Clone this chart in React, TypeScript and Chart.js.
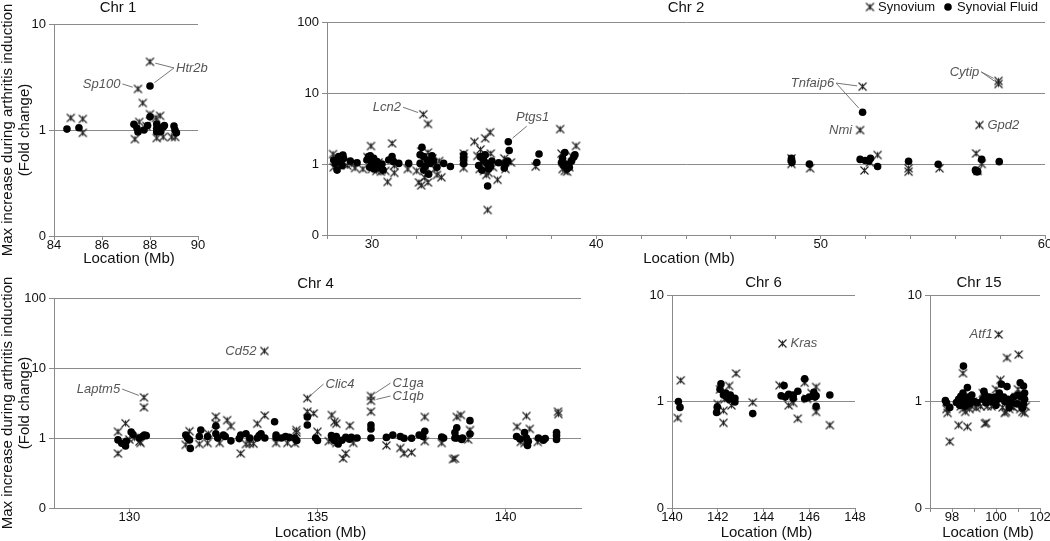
import React, { useEffect, useRef } from 'react';
import { Chart, registerables } from 'chart.js';
Chart.register(...registerables);

type P = [number, number];
type Note = { text: string; at: P; side: 'left' | 'right' | 'above'; gap?: number; targets?: P[] };

const FONT = "'Liberation Sans', Arial, Helvetica, sans-serif";
const Y_TITLE_1 = 'Max increase during arthritis induction';
const Y_TITLE_2 = '(Fold change)';
const X_TITLE = 'Location (Mb)';

// ---------- y ticks (log scale; bottom 0.1 shown as "0") ----------
const yTicksTen = [0.1, 1, 10];
const yTicksHundred = [0.1, 1, 10, 100];

// ---------- Chr 1 ----------
const chr1XTicks = [84, 86, 88, 90];
const chr1XLabels = [84, 86, 88, 90];
const chr1Synovium: P[] = [
  [84.7, 1.3], [85.2, 1.27], [85.2, 0.94], [87.37, 0.82], [87.5, 2.44], [87.7, 1.8], [88.0, 4.4],
  [88.0, 1.41], [87.55, 1.19], [88.25, 1.3], [88.42, 1.36], [88.28, 0.84], [88.55, 0.86], [88.9, 0.86],
  [89.05, 0.86], [87.85, 1.09],
];
const chr1Fluid: P[] = [
  [84.54, 1.02], [85.04, 1.05], [87.33, 1.13], [87.46, 1.04], [87.5, 0.96], [87.75, 1.0], [88.0, 1.33],
  [88.0, 2.6], [87.9, 1.1], [88.28, 1.14], [88.28, 1.04], [88.55, 1.07], [88.45, 0.97], [88.6, 1.1],
  [89.0, 1.09], [89.04, 1.0], [89.1, 0.94], [88.28, 0.96],
];
const chr1Notes: Note[] = [
  { text: 'Sp100', at: [86.85, 2.72], side: 'left', targets: [[87.5, 2.44]] },
  { text: 'Htr2b', at: [89.0, 3.85], side: 'right', targets: [[88.0, 4.4], [88.0, 2.6]] },
];

// ---------- Chr 2 ----------
const chr2XTicks = [28, 30, 32, 34, 36, 38, 40, 42, 44, 46, 48, 50, 52, 54, 56, 58, 60];
const chr2XLabels = [30, 40, 50, 60];
const chr2Synovium: P[] = [
  [28.27, 1.38], [28.3, 0.9], [28.5, 1.2], [28.7, 1.05], [28.9, 0.95], [29.1, 1.0], [29.25, 0.88],
  [29.96, 1.79], [29.8, 1.25], [30.0, 0.85], [30.2, 0.8], [30.4, 0.78], [30.3, 1.05], [29.6, 0.85],
  [30.6, 0.8], [30.9, 1.95], [30.7, 0.56], [31.0, 0.75], [31.0, 0.95], [31.6, 0.85],
  [32.29, 5.0], [32.5, 3.66], [32.1, 0.55], [32.2, 0.5], [32.5, 0.55], [32.35, 0.65], [33.1, 0.65],
  [32.9, 0.7], [32.2, 1.5], [32.5, 1.45], [32.7, 1.2], [32.4, 0.9], [32.8, 0.85], [32.0, 0.8], [33.0, 1.1],
  [34.09, 0.88], [34.1, 1.4], [34.09, 1.25],
  [34.57, 2.06], [35.27, 2.8], [35.05, 2.3], [34.84, 1.6], [34.7, 1.3], [34.8, 0.85], [35.0, 0.8],
  [35.2, 0.75], [35.4, 0.9], [35.16, 0.225], [35.6, 0.6], [35.3, 1.4], [34.9, 1.05], [35.1, 0.7],
  [35.9, 1.2], [35.95, 0.85], [36.2, 1.05], [37.3, 0.92], [38.39, 3.1], [39.1, 1.8], [38.5, 0.85],
  [38.6, 0.8], [38.7, 0.78], [38.8, 0.9], [38.45, 1.4], [38.9, 1.3],
  [48.7, 1.2], [48.7, 1.0], [49.53, 0.87], [51.95, 0.81], [51.76, 3.0], [51.87, 12.3], [52.54, 1.34],
  [52.2, 1.05], [53.92, 0.78], [53.92, 0.87], [55.3, 0.87], [56.93, 1.41], [57.18, 1.0], [57.08, 3.54],
  [57.93, 14.8], [57.93, 13.4], [57.0, 0.8],
];
const chr2Fluid: P[] = [
  [28.3, 1.14], [28.37, 1.02], [28.45, 0.82], [28.52, 1.27], [28.6, 1.08], [28.67, 0.95], [28.74, 1.2],
  [28.71, 1.34], [29.04, 1.1], [29.34, 1.04],
  [29.78, 1.14], [29.85, 1.27], [29.93, 1.3], [30.0, 1.02], [30.08, 1.2], [30.15, 0.95], [30.23, 1.08],
  [30.3, 0.88], [30.38, 0.92], [30.45, 1.0], [29.9, 0.9], [30.1, 0.85], [30.5, 0.82],
  [30.75, 1.14], [30.9, 1.27], [30.97, 1.08], [31.2, 1.02], [31.64, 1.02],
  [32.23, 1.72], [32.15, 1.35], [32.31, 1.27], [32.46, 1.14], [32.6, 1.02], [32.38, 0.92], [32.75, 1.1],
  [32.9, 0.9], [32.53, 0.72], [32.15, 1.02], [32.68, 1.3], [32.31, 0.82], [33.2, 1.02], [33.5, 0.92],
  [34.09, 1.35], [34.09, 1.2], [34.09, 1.02],
  [34.84, 1.27], [34.98, 1.14], [35.13, 1.02], [35.28, 0.92], [34.76, 0.95], [35.05, 1.35], [35.2, 0.85],
  [34.9, 0.82], [35.35, 1.1], [35.16, 0.49],
  [35.65, 1.04], [35.95, 1.02], [36.05, 1.1], [36.08, 2.06], [36.12, 1.55], [35.9, 0.88],
  [37.35, 1.05], [37.45, 1.38],
  [38.5, 1.2], [38.45, 1.05], [38.55, 0.95], [38.6, 1.45], [38.7, 0.85], [38.8, 0.9], [38.9, 1.1],
  [39.0, 1.25], [39.05, 1.35], [38.65, 1.0],
  [48.7, 1.12], [48.7, 1.2], [48.72, 1.05], [49.5, 1.0], [51.76, 1.16], [51.99, 1.12], [52.22, 1.2],
  [52.15, 1.1], [52.54, 0.92], [53.92, 1.09], [55.24, 0.99], [56.9, 0.82], [56.95, 0.78], [57.0, 0.78],
  [56.92, 0.8], [57.18, 1.16], [57.96, 1.08], [51.87, 5.35],
];
const chr2Notes: Note[] = [
  { text: 'Lcn2', at: [31.39, 6.3], side: 'left', targets: [[32.29, 5.0]] },
  { text: 'Ptgs1', at: [36.9, 3.4], side: 'above', targets: [[36.08, 2.06]] },
  { text: 'Tnfaip6', at: [50.69, 13.8], side: 'left', targets: [[51.87, 12.3], [51.87, 5.35]] },
  { text: 'Nmi', at: [51.76, 3.0], side: 'left', gap: 8 },
  { text: 'Cytip', at: [57.16, 19.8], side: 'left', targets: [[57.93, 14.8], [57.93, 13.4]] },
  { text: 'Gpd2', at: [57.08, 3.54], side: 'right', gap: 8 },
];

// ---------- Chr 4 ----------
const chr4XTicks = [130, 135, 140];
const chr4XLabels = [130, 135, 140];
const chr4Synovium: P[] = [
  [129.7, 1.23], [129.7, 0.6], [129.9, 1.62], [130.27, 0.89], [130.14, 1.0], [130.0, 0.95], [130.39, 3.8],
  [130.39, 2.74], [130.3, 0.85],
  [131.5, 0.8], [131.6, 1.25], [131.86, 0.82], [132.08, 0.85], [132.3, 2.02], [132.3, 1.6], [132.6, 1.8],
  [132.7, 1.48], [132.96, 0.6], [133.4, 1.6], [133.6, 2.1], [133.3, 0.83], [133.2, 0.83], [133.9, 0.85],
  [134.2, 0.85], [132.4, 0.85], [133.1, 0.82], [132.1, 1.15],
  [133.59, 17.5],
  [134.44, 1.3], [134.44, 1.2], [134.4, 0.84], [134.73, 3.69], [134.73, 2.38], [134.9, 2.24], [135.0, 1.23],
  [135.38, 2.13], [135.45, 1.7], [135.5, 1.6], [135.86, 1.5], [135.68, 0.51], [135.75, 0.6], [135.95, 0.85],
  [135.5, 0.85], [135.3, 0.9],
  [136.42, 3.98], [136.42, 3.41], [136.42, 2.38], [136.83, 0.78], [137.2, 0.72], [137.3, 0.6], [137.5, 0.62],
  [137.85, 2.0], [137.85, 0.9], [138.3, 0.85], [138.6, 0.5], [138.7, 2.0],
  [138.81, 2.13], [139.05, 1.3], [138.65, 0.51], [139.0, 0.95],
  [140.55, 2.06], [140.3, 1.45], [140.64, 1.35], [140.4, 0.88], [140.85, 0.88], [141.39, 2.38], [141.4, 2.2],
  [140.5, 0.85],
];
const chr4Fluid: P[] = [
  [129.7, 0.94], [129.8, 0.84], [129.9, 0.77], [129.92, 0.9], [130.05, 1.22], [130.1, 1.12], [130.27, 1.0],
  [130.35, 1.05], [130.4, 1.1], [130.45, 1.08],
  [131.5, 1.1], [131.55, 1.0], [131.6, 0.94], [131.62, 0.71], [131.9, 1.3], [131.86, 1.05], [132.08, 1.05],
  [132.3, 1.48], [132.3, 1.15], [132.35, 1.0], [132.5, 1.1], [132.55, 1.05], [132.7, 0.91], [132.96, 1.1],
  [132.92, 0.98], [133.1, 1.15], [133.2, 1.0], [133.4, 1.0], [133.45, 1.08], [133.5, 1.15], [133.6, 1.0],
  [133.86, 1.71], [133.9, 1.1], [133.9, 1.02], [134.15, 1.05], [134.25, 1.02],
  [134.04, 1.0], [134.4, 1.0], [134.45, 0.92], [134.73, 2.0], [134.73, 1.53], [134.95, 1.0], [135.0, 0.92],
  [135.37, 1.08], [135.4, 0.98], [135.45, 0.92], [135.5, 1.05], [135.55, 0.82], [135.65, 0.93],
  [135.75, 1.02], [135.9, 1.02], [136.05, 1.0], [135.85, 0.96],
  [136.42, 1.53], [136.42, 1.35], [136.42, 1.0], [136.83, 1.02], [137.0, 1.1], [137.2, 1.05], [137.3, 0.99],
  [137.5, 0.99], [137.7, 1.1], [137.85, 1.25], [137.8, 1.05], [138.3, 1.03], [138.35, 1.0], [138.65, 1.0],
  [138.7, 1.4],
  [138.65, 1.2], [138.7, 1.0], [138.83, 0.95], [138.85, 1.0], [139.05, 1.77], [139.05, 1.14],
  [140.29, 1.05], [140.38, 0.97], [140.5, 1.2], [140.55, 1.0], [140.6, 0.9], [140.58, 0.78], [140.87, 1.0],
  [141.0, 0.93], [141.05, 0.98], [141.35, 1.2], [141.35, 1.08], [141.35, 0.95],
];
const chr4Notes: Note[] = [
  { text: 'Laptm5', at: [129.81, 5.0], side: 'left', targets: [[130.39, 3.8]] },
  { text: 'Cd52', at: [133.59, 17.5], side: 'left', gap: 8 },
  { text: 'Clic4', at: [135.16, 5.9], side: 'right', targets: [[134.73, 3.69]] },
  { text: 'C1ga', at: [136.94, 6.1], side: 'right', targets: [[136.42, 3.98]] },
  { text: 'C1qb', at: [136.94, 3.98], side: 'right', targets: [[136.42, 3.41]] },
];

// ---------- Chr 6 ----------
const chr6XTicks = [140, 142, 144, 146, 148];
const chr6XLabels = [140, 142, 144, 146, 148];
const chr6Synovium: P[] = [
  [140.38, 1.58], [140.25, 0.7], [142.0, 0.95], [142.25, 0.63], [142.25, 0.82], [142.1, 1.3], [142.5, 1.4],
  [142.6, 0.92], [142.8, 1.83], [142.3, 1.05], [143.53, 0.98], [144.83, 3.5], [144.7, 1.42], [145.1, 0.92],
  [145.3, 0.97], [145.5, 0.69], [145.8, 1.5], [145.9, 1.06], [146.3, 1.37], [146.3, 0.8], [146.9, 0.6],
  [146.1, 1.2],
];
const chr6Fluid: P[] = [
  [140.28, 1.0], [140.35, 0.88], [141.98, 0.89], [141.95, 0.79], [142.14, 1.47], [142.1, 1.3], [142.25, 1.15],
  [142.35, 1.2], [142.4, 1.1], [142.5, 1.05], [142.55, 1.15], [142.75, 1.07], [142.75, 0.99], [143.53, 0.77],
  [144.77, 1.13], [144.9, 1.41], [144.95, 1.1], [145.1, 1.17], [145.3, 1.07], [145.3, 1.15], [145.5, 1.25],
  [145.8, 1.63], [145.8, 1.06], [146.0, 1.1], [146.2, 1.22], [146.25, 1.1], [146.3, 1.13], [146.3, 0.9],
  [146.9, 1.15],
];
const chr6Notes: Note[] = [{ text: 'Kras', at: [144.83, 3.5], side: 'right', gap: 8 }];

// ---------- Chr 15 ----------
const chr15XTicks = [97, 98, 99, 100, 101, 102];
const chr15XLabels = [98, 100, 102];
const chr15Synovium: P[] = [
  [97.75, 0.85], [97.8, 0.78], [97.9, 0.42], [98.3, 0.6], [98.5, 1.84], [98.4, 0.9], [98.5, 0.85],
  [98.6, 0.8], [98.7, 0.58], [98.8, 0.85], [98.9, 0.9], [99.1, 0.87], [99.2, 0.95], [99.3, 0.9], [99.5, 0.62],
  [99.55, 0.63], [99.6, 0.9], [99.8, 0.9], [100.0, 1.3], [100.12, 4.26], [100.2, 1.6], [100.3, 0.88],
  [100.4, 0.78], [100.45, 0.8], [100.5, 2.57], [100.6, 0.85], [100.7, 0.9], [100.8, 0.88], [100.9, 1.1],
  [101.03, 2.76], [101.1, 0.85], [101.2, 0.8], [101.3, 0.78], [101.35, 0.9], [98.95, 1.0], [99.4, 1.2],
  [100.9, 0.95], [101.0, 1.3],
];
const chr15Fluid: P[] = [
  [97.7, 1.02], [97.75, 0.97], [97.9, 0.88], [98.2, 0.98], [98.3, 1.05], [98.35, 0.92], [98.4, 1.12],
  [98.45, 0.97], [98.5, 1.2], [98.52, 2.15], [98.55, 1.05], [98.6, 0.9], [98.65, 1.0], [98.7, 1.35],
  [98.75, 1.1], [98.8, 0.95], [98.9, 1.15], [99.0, 1.0], [99.13, 0.98], [99.4, 1.05], [99.45, 1.25],
  [99.5, 1.15], [99.55, 0.97], [99.7, 1.1], [99.8, 1.0], [99.95, 1.1], [100.0, 0.92], [100.1, 1.05],
  [100.15, 1.2], [100.25, 1.45], [100.35, 1.1], [100.4, 1.0], [100.5, 1.38], [100.55, 1.05], [100.7, 0.98],
  [100.8, 1.1], [100.95, 0.95], [101.0, 1.15], [101.1, 1.5], [101.15, 1.1], [101.25, 1.4], [101.25, 0.95],
  [101.3, 1.2], [101.3, 1.05], [101.2, 0.87], [100.6, 0.88],
];
const chr15Notes: Note[] = [{ text: 'Atf1', at: [100.12, 4.26], side: 'left', gap: 6 }];

// ---------- panels ----------
type Panel = {
  key: string;
  title: string;
  titleDx: number;
  titleY: number;
  xTitleY: number;
  box: { left: number; top: number; width: number; height: number };
  area: { left: number; top: number; right: number; bottom: number };
  xMin: number;
  xMax: number;
  xTicks: number[];
  xLabels: number[];
  yTicks: number[];
  synovium: P[];
  fluid: P[];
  notes: Note[];
  yTitle?: boolean;
  legend?: boolean;
};

const panels: Panel[] = [
  {
    key: 'c1', title: 'Chr 1', titleDx: -8, titleY: 8, xTitleY: 259,
    box: { left: 0, top: 0, width: 215, height: 270 },
    area: { left: 54, top: 24, right: 198, bottom: 236 },
    xMin: 84, xMax: 90, xTicks: chr1XTicks, xLabels: chr1XLabels, yTicks: yTicksTen,
    synovium: chr1Synovium, fluid: chr1Fluid, notes: chr1Notes, yTitle: true,
  },
  {
    key: 'c2', title: 'Chr 2', titleDx: 0, titleY: 8, xTitleY: 259,
    box: { left: 280, top: 0, width: 780, height: 270 },
    area: { left: 47, top: 22, right: 765, bottom: 235 },
    xMin: 28, xMax: 60, xTicks: chr2XTicks, xLabels: chr2XLabels, yTicks: yTicksHundred,
    synovium: chr2Synovium, fluid: chr2Fluid, notes: chr2Notes, legend: true,
  },
  {
    key: 'c4', title: 'Chr 4', titleDx: -2, titleY: 14, xTitleY: 263,
    box: { left: 0, top: 270, width: 600, height: 271 },
    area: { left: 54, top: 28, right: 581, bottom: 238 },
    xMin: 128, xMax: 142, xTicks: chr4XTicks, xLabels: chr4XLabels, yTicks: yTicksHundred,
    synovium: chr4Synovium, fluid: chr4Fluid, notes: chr4Notes, yTitle: true,
  },
  {
    key: 'c6', title: 'Chr 6', titleDx: 0, titleY: 13, xTitleY: 263,
    box: { left: 620, top: 270, width: 250, height: 271 },
    area: { left: 52, top: 25, right: 235, bottom: 238 },
    xMin: 140, xMax: 148, xTicks: chr6XTicks, xLabels: chr6XLabels, yTicks: yTicksTen,
    synovium: chr6Synovium, fluid: chr6Fluid, notes: chr6Notes,
  },
  {
    key: 'c15', title: 'Chr 15', titleDx: -6, titleY: 13, xTitleY: 263,
    box: { left: 880, top: 270, width: 175, height: 271 },
    area: { left: 50, top: 25, right: 160, bottom: 238 },
    xMin: 97, xMax: 102, xTicks: chr15XTicks, xLabels: chr15XLabels, yTicks: yTicksTen,
    synovium: chr15Synovium, fluid: chr15Fluid, notes: chr15Notes,
  },
];

let crossImg: HTMLCanvasElement | null = null;
function crossMarker(): HTMLCanvasElement {
  if (crossImg) return crossImg;
  const c = document.createElement('canvas');
  c.width = 11;
  c.height = 11;
  const g = c.getContext('2d')!;
  g.strokeStyle = '#222';
  g.lineWidth = 1.1;
  g.beginPath();
  g.moveTo(1.5, 1.5); g.lineTo(9.5, 9.5);
  g.moveTo(9.5, 1.5); g.lineTo(1.5, 9.5);
  g.moveTo(5.5, 2.5); g.lineTo(5.5, 8.5);
  g.stroke();
  crossImg = c;
  return c;
}

function decorPlugin(cfg: Panel) {
  return {
    id: 'decor_' + cfg.key,
    afterDraw(chart: any) {
      const { ctx, chartArea: a, scales } = chart;
      const xs = scales.x;
      const ys = scales.y;
      ctx.save();
      ctx.fillStyle = '#111';
      ctx.textBaseline = 'middle';
      ctx.textAlign = 'center';
      ctx.font = `15px ${FONT}`;
      ctx.fillText(cfg.title, (a.left + a.right) / 2 + cfg.titleDx, cfg.titleY);
      ctx.fillText(X_TITLE, (a.left + a.right) / 2 + 3, cfg.xTitleY);
      if (cfg.yTitle) {
        ctx.save();
        ctx.translate(0, (a.top + a.bottom) / 2);
        ctx.rotate(-Math.PI / 2);
        ctx.font = `15px ${FONT}`;
        ctx.fillText(Y_TITLE_1, 0, 8);
        ctx.fillText(Y_TITLE_2, 0, 25);
        ctx.restore();
      }
      ctx.font = `italic 13px ${FONT}`;
      for (const n of cfg.notes) {
        const ax = xs.getPixelForValue(n.at[0]);
        const ay = ys.getPixelForValue(n.at[1]);
        ctx.strokeStyle = '#666';
        ctx.lineWidth = 0.9;
        for (const t of n.targets || []) {
          const tx = xs.getPixelForValue(t[0]);
          const ty = ys.getPixelForValue(t[1]);
          const dx = tx - ax;
          const dy = ty - ay;
          const len = Math.hypot(dx, dy);
          const k = (len - 5.5) / len;
          ctx.beginPath();
          ctx.moveTo(ax, ay);
          ctx.lineTo(ax + dx * k, ay + dy * k);
          ctx.stroke();
        }
        ctx.fillStyle = '#555';
        const gap = n.gap ?? 2;
        if (n.side === 'left') {
          ctx.textAlign = 'right';
          ctx.fillText(n.text, ax - gap, ay);
        } else if (n.side === 'right') {
          ctx.textAlign = 'left';
          ctx.fillText(n.text, ax + gap, ay);
        } else {
          ctx.textAlign = 'center';
          ctx.fillText(n.text, ax + 6, ay - 9);
        }
      }
      if (cfg.legend) {
        const img = crossMarker();
        ctx.drawImage(img, 590 - 5.5, 7 - 5.5);
        ctx.fillStyle = '#000';
        ctx.beginPath();
        ctx.arc(668, 7, 3.8, 0, Math.PI * 2);
        ctx.fill();
        ctx.fillStyle = '#111';
        ctx.textAlign = 'left';
        ctx.font = `13px ${FONT}`;
        ctx.fillText('Synovium', 598, 7);
        ctx.fillText('Synovial Fluid', 677, 7);
      }
      ctx.restore();
    },
  };
}

function ChartPanel({ cfg }: { cfg: Panel }) {
  const ref = useRef<HTMLCanvasElement>(null);
  useEffect(() => {
    if (!ref.current) return;
    const { box, area } = cfg;
    const tickFont = { family: FONT, size: 13 };
    const chart = new Chart(ref.current, {
      type: 'scatter',
      data: {
        datasets: [
          {
            label: 'Synovial Fluid',
            data: cfg.fluid.map(([x, y]) => ({ x, y })),
            pointStyle: 'circle',
            pointRadius: 3.8,
            backgroundColor: '#000',
            borderColor: '#000',
            borderWidth: 0,
          },
          {
            label: 'Synovium',
            data: cfg.synovium.map(([x, y]) => ({ x, y })),
            pointStyle: crossMarker() as any,
            pointRadius: 5,
            backgroundColor: '#222',
            borderColor: '#222',
          },
        ],
      },
      options: {
        animation: false,
        responsive: false,
        devicePixelRatio: 1,
        events: [],
        layout: { padding: { left: 0, top: area.top, right: box.width - area.right, bottom: 0 } },
        plugins: { legend: { display: false }, tooltip: { enabled: false }, title: { display: false } },
        scales: {
          x: {
            type: 'linear',
            min: cfg.xMin,
            max: cfg.xMax,
            afterBuildTicks: (s: any) => {
              s.ticks = cfg.xTicks.map((v) => ({ value: v }));
            },
            afterFit: (s: any) => {
              s.height = box.height - area.bottom;
            },
            ticks: {
              autoSkip: false,
              maxRotation: 0,
              padding: -2,
              color: '#111',
              font: tickFont,
              callback: (v: any) => (cfg.xLabels.includes(Number(v)) ? String(v) : ''),
            },
            grid: { drawOnChartArea: false, tickLength: 4, color: '#8a8a8a' },
            border: { color: '#8a8a8a' },
          },
          y: {
            type: 'logarithmic',
            min: 0.1,
            max: cfg.yTicks[cfg.yTicks.length - 1],
            afterBuildTicks: (s: any) => {
              s.ticks = cfg.yTicks.map((v) => ({ value: v }));
            },
            afterFit: (s: any) => {
              s.width = area.left;
            },
            ticks: {
              autoSkip: false,
              padding: 3,
              color: '#111',
              font: tickFont,
              callback: (v: any) => (Number(v) === 0.1 ? '0' : String(v)),
            },
            grid: { color: '#8a8a8a', tickLength: 5 },
            border: { color: '#8a8a8a' },
          },
        },
      } as any,
      plugins: [decorPlugin(cfg)],
    });
    return () => chart.destroy();
  }, [cfg]);
  return (
    <canvas
      ref={ref}
      width={cfg.box.width}
      height={cfg.box.height}
      style={{
        position: 'absolute',
        left: cfg.box.left,
        top: cfg.box.top,
        width: cfg.box.width,
        height: cfg.box.height,
      }}
    />
  );
}

export default function App() {
  return (
    <div
      style={{
        position: 'fixed',
        left: 0,
        top: 0,
        width: 1050,
        height: 541,
        overflow: 'hidden',
        background: '#fff',
      }}
    >
      {panels.map((p) => (
        <ChartPanel key={p.key} cfg={p} />
      ))}
    </div>
  );
}
